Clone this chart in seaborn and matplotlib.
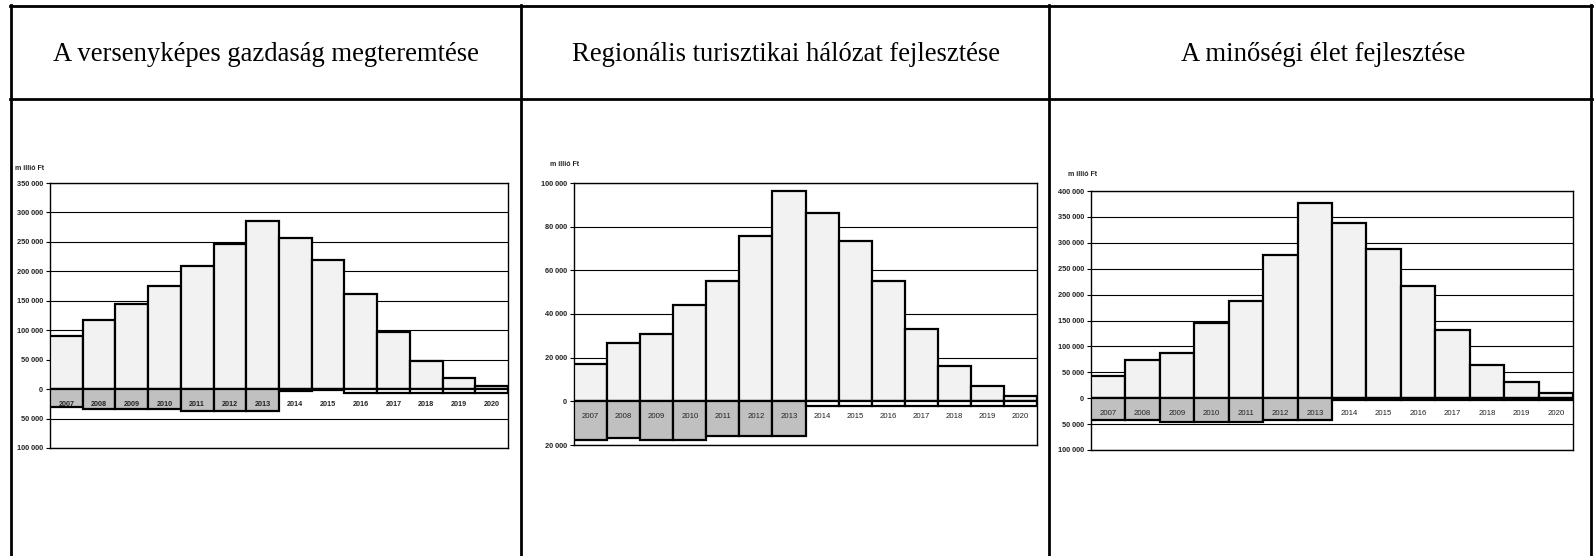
import matplotlib
matplotlib.use("Agg")
import matplotlib.pyplot as plt
import matplotlib.transforms as mtransforms
from matplotlib.lines import Line2D
from matplotlib.ticker import FuncFormatter, MultipleLocator
import pandas as pd
import seaborn as sns

# adatok (millió Ft), leolvasva az ábráról
years = [str(y) for y in range(2007, 2021)]

titles = [
    "A versenyképes gazdaság megteremtése",
    "Regionális turisztikai hálózat fejlesztése",
    "A minőségi élet fejlesztése",
]

gazdasag_plus = [90000, 117500, 144000, 175000, 209000, 246000, 286000,
                 256000, 219000, 162000, 97000, 47000, 19000, 6000]
gazdasag_minus = [-30500, -33000, -33000, -33000, -37000, -37000, -37000,
                  -3400, -2000, -6000, -6000, -6000, -6000, -6000]

turizmus_plus = [17200, 26500, 31000, 44000, 55000, 75500, 96200,
                 86200, 73500, 55000, 33000, 16300, 7000, 2300]
turizmus_minus = [-17700, -16900, -17700, -17700, -16000, -16000, -16000,
                  -2200, -2200, -2200, -2200, -2200, -2200, -2200]

elet_plus = [42000, 73000, 88000, 146000, 188000, 277000, 377000,
             339000, 288000, 216000, 131000, 65000, 31000, 11000]
elet_minus = [-42000, -42000, -46500, -46500, -46500, -42000, -42000,
              -4000, -4000, -4000, -4000, -4000, -4000, -4000]

W, H = 1596, 556

# panel: pozíció pixelben (bal, jobb, felső, alsó), y tengely, betűk
panels = [
    dict(plus=gazdasag_plus, minus=gazdasag_minus, box=(50, 508, 183, 448),
         ylim=(-100000, 350000), step=50000, unit_xy=(15, 168), bold_years=True),
    dict(plus=turizmus_plus, minus=turizmus_minus, box=(574, 1037, 183, 445),
         ylim=(-20000, 100000), step=20000, unit_xy=(550, 165), bold_years=False),
    dict(plus=elet_plus, minus=elet_minus, box=(1091, 1573, 191, 450),
         ylim=(-100000, 400000), step=50000, unit_xy=(1068, 175), bold_years=False),
]

plt.rcParams['font.family'] = ['Liberation Sans', 'DejaVu Sans']

fig = plt.figure(figsize=(W / 100, H / 100), dpi=100)
fig.patch.set_facecolor("white")

fmt = FuncFormatter(lambda v, p: f"{abs(v):,.0f}".replace(",", " "))

for p in panels:
    l, r, t, b = p["box"]
    ax = fig.add_axes([l / W, 1 - b / H, (r - l) / W, (b - t) / H])
    df = pd.DataFrame({"ev": years, "plus": p["plus"], "minus": p["minus"]})
    neg_colors = {y: ("#c0c0c0" if int(y) <= 2013 else "white") for y in years}

    sns.barplot(data=df, x="ev", y="plus", color="#f2f2f2", width=1.0,
                edgecolor="black", linewidth=1.6, saturation=1, ax=ax, zorder=3)
    sns.barplot(data=df, x="ev", y="minus", hue="ev", palette=neg_colors,
                width=1.0, edgecolor="black", linewidth=1.6, saturation=1,
                legend=False, ax=ax, zorder=3)

    ax.set_xlim(-0.5, len(years) - 0.5)
    ax.set_ylim(*p["ylim"])
    ax.yaxis.set_major_locator(MultipleLocator(p["step"]))
    ax.yaxis.set_major_formatter(fmt)
    ax.grid(axis="y", color="black", linewidth=0.8, zorder=0)
    ax.set_axisbelow(True)
    ax.set_xlabel("")
    ax.set_ylabel("")
    ax.set_xticks([])
    ax.tick_params(axis="y", length=3, width=0.8, pad=2, labelsize=5.3,
                   labelcolor="#222222")
    for lab in ax.get_yticklabels():
        lab.set_fontweight("bold")
    for s in ax.spines.values():
        s.set_color("black")
        s.set_linewidth(1.0)

    # évszámok a nulla vonal alatt
    tr = mtransforms.offset_copy(ax.transData, fig=fig, y=-15, units="dots")
    for i, y in enumerate(years):
        ax.text(i, 0, y, transform=tr, ha="center", va="center",
                fontsize=5.2 if p["bold_years"] else 5.6,
                fontweight="bold" if p["bold_years"] else "normal",
                color="#222222", zorder=5)

    ux, uy = p["unit_xy"]
    fig.text(ux / W, 1 - uy / H, "m illió Ft", fontsize=5, fontweight="bold",
             ha="left", va="center", color="#222222")

# táblázat keretei
lw = 2.0
def hline(y, x0, x1):
    fig.add_artist(Line2D([x0 / W, x1 / W], [1 - y / H, 1 - y / H],
                          color="black", linewidth=lw, transform=fig.transFigure))

def vline(x, y0, y1):
    fig.add_artist(Line2D([x / W, x / W], [1 - y0 / H, 1 - y1 / H],
                          color="black", linewidth=lw, transform=fig.transFigure))

hline(6, 10, 1592)
hline(99, 10, 1592)
for x in (11, 521, 1049, 1591):
    vline(x, 5, 556)

centers = [266, 786, 1323]
for c, ttl in zip(centers, titles):
    fig.text(c / W, 1 - 54 / H, ttl, fontsize=19.2, ha="center", va="center",
             family=["Liberation Serif", "DejaVu Serif"], color="black")

fig.savefig("out.png", dpi=100, facecolor="white")
